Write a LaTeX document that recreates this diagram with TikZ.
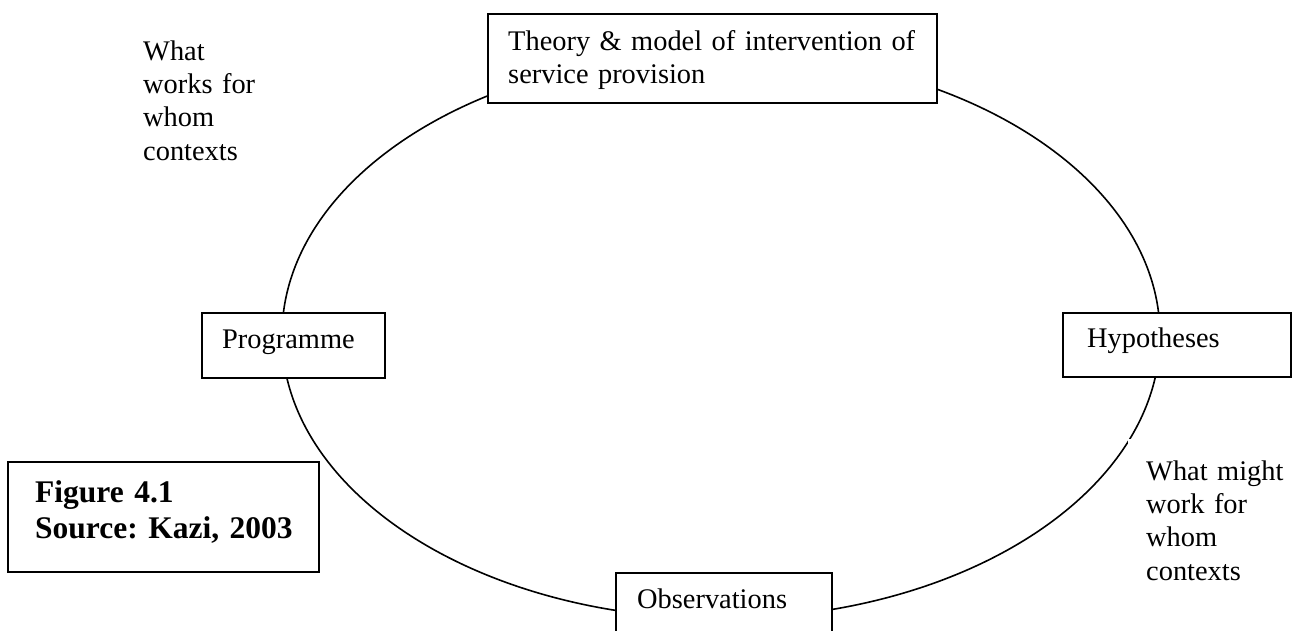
\documentclass[tikz,border=0pt]{standalone}
\usepackage{fontspec}
\setmainfont{Liberation Serif}
\frenchspacing
\begin{document}
\begin{tikzpicture}[x=1pt,y=-1pt,
  box/.style={draw, line width=1.9pt, fill=white, inner sep=0pt, anchor=north west},
  txt/.style={inner sep=0pt, anchor=base west, align=left, text width=430pt,
              font=\fontsize{28.4}{33.4}\selectfont},
  btxt/.style={txt, font=\fontsize{31.5}{36}\selectfont\bfseries},
  ring/.style={line width=1.6pt}]
\useasboundingbox (0,0) rectangle (1299,630);
\clip (0,0) rectangle (1299,630);
\draw[ring] (721,335.6) ellipse [x radius=439, y radius=283];
% boxes
\node[box, minimum width=449pt, minimum height=89pt] (theory) at (487,13) {};
\node[box, minimum width=183pt, minimum height=65pt] (prog) at (201,312) {};
\node[box, minimum width=228pt, minimum height=64pt] (hyp) at (1062,312) {};
\node[box, minimum width=216pt, minimum height=80pt] (obs) at (615,572) {};
\node[box, minimum width=311pt, minimum height=110pt] (fig) at (7,461) {};
% texts
\node[txt] (theoryT) at (508,50) {Theory \& model of intervention of\\service provision};
\node[txt] (progT) at (222,348) {Programme};
\node[txt] (hypT) at (1087,347) {Hypotheses};
\node[txt] (obsT) at (637,608) {Observations};
\node[txt] (works) at (143,60) {What\\works for\\whom\\contexts};
\node[txt, fill=white, inner xsep=18pt, inner ysep=21pt, text width=140pt]
  (might) at (1128,480) {What might\\work for\\whom\\contexts};
\node[btxt] (figT) at (35,502) {Figure 4.1\\Source: Kazi, 2003};
\end{tikzpicture}
\end{document}
